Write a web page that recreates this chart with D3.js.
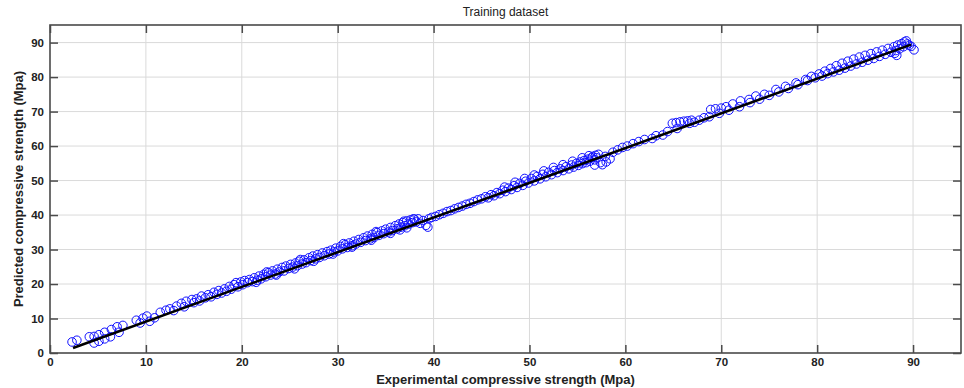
<!DOCTYPE html>
<html>
<head>
<meta charset="utf-8">
<script src="https://cdn.jsdelivr.net/npm/d3@7"></script>
<style>
  html, body { margin: 0; padding: 0; background: #fff; }
  svg { display: block; font-family: "Liberation Sans", Arial, sans-serif; }
</style>
</head>
<body>
<svg id="chart" width="964" height="388"></svg>
<script>
// ---- data ----
const chartTitle = "Training dataset";
const xLabel = "Experimental compressive strength (Mpa)";
const yLabel = "Predicted compressive strength (Mpa)";
const xTicks = [0, 10, 20, 30, 40, 50, 60, 70, 80, 90];
const yTicks = [0, 10, 20, 30, 40, 50, 60, 70, 80, 90];

// [experimental, predicted]
const pointsLow = [
  [2.3,3.2],[2.8,3.7],[4.1,4.7],[4.6,2.9],[4.6,4.8],[5.1,5.3],[5.1,3.4],[5.7,6.0],[5.7,4.1],[6.3,4.7],
  [6.4,6.8],[7.0,7.6],[7.2,6.0],[7.6,8.0],[9.0,9.5],[9.4,8.7],[9.7,10.1],[10.1,10.7],[10.4,9.2],[10.9,10.2],
  [11.5,11.8],[12.1,12.4],[12.5,12.8],[12.9,12.3],[13.2,13.6],[13.7,14.4],[14.0,13.4],[14.2,15.0],[14.8,15.5],[15.0,14.6],
  [15.3,15.7],[15.6,15.1],[15.8,16.5],[16.2,16.0],[16.5,16.9],[16.8,16.3],[17.1,17.6],[17.4,17.0],[17.6,18.1],[17.9,17.4],
  [18.2,18.6],[18.4,17.9],[18.7,19.3],[18.9,18.5],[19.2,19.8],[19.4,20.4],[19.6,19.2],[19.9,20.6],[20.1,19.8]
];
const pointsMid = [
  [20.3,21.0],[20.6,20.4],[20.8,21.3],[21.1,20.7],[21.3,21.8],[21.6,21.1],[21.8,22.3],[22.0,21.5],[22.3,22.8],[22.5,22.1],
  [22.8,23.3],[23.0,22.6],[23.2,23.8],[23.5,22.9],[23.7,24.3],[23.9,23.5],[24.2,24.8],[24.4,23.8],[24.6,25.2],[24.9,24.5],
  [25.1,25.7],[25.3,24.9],[25.6,26.1],[25.8,25.3],[26.0,26.6],[26.3,25.8],[26.5,27.0],[26.7,26.2],[27.0,27.6],[27.2,26.8],
  [27.4,28.1],[27.7,27.3],[27.9,28.5],[28.1,27.7],[28.4,29.0],[28.6,28.2],[28.9,29.4],[29.1,28.7],[29.3,29.8],[29.6,29.3],
  [29.8,30.4],[30.0,29.6],[30.3,30.9],[30.5,30.2],[30.8,31.4],[31.0,30.6],[31.2,31.9],[31.5,31.1],[31.7,32.4],[31.9,31.6],
  [32.2,32.9],[32.4,32.1],[32.7,33.4],[32.9,32.6],[33.1,33.9],[33.4,33.1],[33.6,34.4],[33.8,33.5],[34.1,34.9],[34.3,34.1],
  [34.6,35.4],[34.8,34.6],[35.0,35.9],[35.3,35.1],[35.5,36.4],[35.7,35.5],[36.0,36.9],[36.2,36.0],[36.4,37.4],[36.6,36.5],
  [36.8,37.8],[37.0,36.9],[37.2,38.3],[37.4,37.4],[37.6,38.6],[37.8,37.8],[38.0,38.8],[38.2,38.0],[38.4,38.9],[38.6,37.6],
  [38.9,38.4],[39.2,37.0],[39.4,36.5],[39.5,38.9],[39.8,39.3],
  [21.5,20.5],[23.6,22.6],[25.5,24.4],[27.5,26.6],[29.5,28.7],[31.5,30.7],[33.5,32.7],[35.5,34.7],[36.5,35.7],[37.2,36.3],
  [22.6,23.5],[26.1,27.1],[30.6,31.7],[34.0,35.2],[36.9,38.2],[37.9,38.9]
];
const pointsHigh = [
  [40.2,39.6],[40.6,40.1],[41.0,40.5],[41.4,41.0],[41.8,41.3],[42.2,41.8],[42.6,42.2],[43.0,42.6],[43.4,43.1],[43.8,43.4],
  [44.2,43.9],[44.6,44.4],[45.0,44.7],[45.4,45.3],[45.7,45.0],[46.0,45.9],[46.3,45.6],[46.6,46.5],[46.9,46.2],[47.2,47.2],
  [47.5,46.8],[47.8,47.8],[48.1,47.4],[48.4,48.5],[48.7,48.0],[49.0,49.2],[49.3,48.6],[49.6,49.8],[49.9,49.3],[50.2,50.6],
  [50.5,49.9],[50.8,51.2],[51.1,50.5],[51.4,51.8],[51.7,51.1],[52.0,52.4],[52.3,51.7],[52.6,52.9],[52.9,52.3],[53.2,53.4],
  [53.5,52.9],[53.8,54.0],[54.1,53.4],[54.4,54.5],[54.6,53.9],[54.9,55.0],[55.1,54.4],[55.3,55.4],[55.5,54.9],[55.7,55.8],
  [55.9,55.2],[56.1,56.2],[56.3,55.6],[56.5,56.6],[56.6,57.0],[56.8,56.0],[56.9,57.3],[57.0,56.6],[57.2,57.6],[56.8,54.5],
  [57.4,55.2],[57.6,54.6],[58.0,55.4],[58.4,56.3],[57.9,57.0],
  [47.4,48.1],[48.5,49.5],[49.5,50.6],[50.5,51.6],[51.5,52.8],[52.5,53.8],[53.5,54.6],[54.5,55.6],[55.5,56.6],[56.2,57.2]
];
const pointsTop = [
  [58.7,58.2],[59.2,58.9],[59.7,59.6],[60.2,60.0],[60.8,60.7],[61.4,61.3],[62.0,61.9],[62.8,62.2],[63.2,63.0],[63.9,63.2],
  [64.4,64.2],[64.9,66.6],[65.4,65.1],[65.3,66.8],[65.7,67.0],[66.1,67.2],[66.5,67.3],[66.7,66.6],[66.9,67.5],[67.2,66.9],
  [67.7,67.5],[68.2,68.2],[68.75,68.5],[68.9,70.6],[69.4,70.8],[69.8,69.5],[70.0,71.0],[70.5,71.4],[70.8,70.4],[71.2,72.2],
  [71.9,71.4],[72.0,73.1],[72.9,73.5],[73.0,72.6],[73.6,74.5],[74.0,73.6],[74.5,75.0],[75.0,74.7],[75.7,76.4],[76.0,75.7],
  [76.7,77.3],[77.0,76.7],[77.8,78.3],[78.0,77.8],[78.8,79.3],[79.0,79.0],[79.4,80.2],[79.8,79.8],[80.2,80.9],[80.5,80.3],
  [80.8,81.7],[81.1,81.0],[81.4,82.5],[81.7,81.5],[82.0,83.3],[82.3,82.0],[82.6,84.0],[82.9,82.6],[83.2,84.6],[83.5,83.2],
  [83.8,85.2],[84.1,83.8],[84.4,85.8],[84.7,84.3],[85.0,86.3],[85.3,84.9],[85.6,86.8],[85.9,85.4],[86.2,87.3],[86.5,86.0],
  [86.8,87.8],[87.1,86.6],[87.4,88.3],[87.7,87.2],[88.0,88.8],[88.2,87.7],[88.4,89.3],[88.6,88.2],[88.8,89.7],[89.0,88.8],
  [89.1,90.2],[89.3,90.5],[89.4,89.6],[88.3,86.3],[88.1,86.9],[89.8,88.9],[90.1,87.9],[89.6,89.2]
];
// regression line end points [experimental, predicted]
const fitLine = [[2.4, 1.45], [89.8, 89.4]];

// ---- chart ----
(function () {
  const svg = d3.select("#chart");
  const mLeft = 50, mRight = 961, mTop = 25, mBottom = 353;
  const x = d3.scaleLinear().domain([0, 95]).range([mLeft, mRight]);
  const y = d3.scaleLinear().domain([0, 95.1]).range([mBottom, mTop]);
  const axisColor = "#4a4a4a";
  const tickLen = 8;

  // grid
  svg.append("g").selectAll("line").data(xTicks.filter(d => d > 0)).join("line")
    .attr("x1", d => x(d)).attr("x2", d => x(d)).attr("y1", mTop).attr("y2", mBottom)
    .attr("stroke", "#dadada").attr("stroke-width", 1);
  svg.append("g").selectAll("line").data(yTicks.filter(d => d > 0)).join("line")
    .attr("x1", mLeft).attr("x2", mRight).attr("y1", d => y(d)).attr("y2", d => y(d))
    .attr("stroke", "#dadada").attr("stroke-width", 1);

  // axes with inward ticks
  const fmt = d3.format("d");
  const gxB = svg.append("g").attr("transform", `translate(0,${mBottom})`)
    .call(d3.axisBottom(x).tickValues(xTicks).tickFormat(fmt).tickSizeInner(-tickLen).tickSizeOuter(0).tickPadding(5));
  const gxT = svg.append("g").attr("transform", `translate(0,${mTop})`)
    .call(d3.axisTop(x).tickValues(xTicks).tickFormat("").tickSizeInner(-tickLen).tickSizeOuter(0));
  const gyL = svg.append("g").attr("transform", `translate(${mLeft},0)`)
    .call(d3.axisLeft(y).tickValues(yTicks).tickFormat(fmt).tickSizeInner(-tickLen).tickSizeOuter(0).tickPadding(6));
  const gyR = svg.append("g").attr("transform", `translate(${mRight},0)`)
    .call(d3.axisRight(y).tickValues(yTicks).tickFormat("").tickSizeInner(-tickLen).tickSizeOuter(0));
  [gxB, gxT, gyL, gyR].forEach(g => {
    g.select(".domain").remove();
    g.selectAll(".tick line").attr("stroke", axisColor).attr("stroke-width", 1.5);
    g.selectAll(".tick text").attr("fill", "#222").style("font-size", "11.5px").style("font-weight", "bold")
      .style("font-family", "'Liberation Sans', Arial, sans-serif");
  });

  // data points
  const allPoints = pointsLow.concat(pointsMid, pointsHigh, pointsTop);
  svg.append("g").selectAll("circle").data(allPoints).join("circle")
    .attr("cx", d => x(d[0])).attr("cy", d => y(d[1])).attr("r", 4.3)
    .attr("fill", "none").attr("stroke", "#1010ff").attr("stroke-width", 1);

  // fit line
  svg.append("path").datum(fitLine)
    .attr("d", d3.line().x(d => x(d[0])).y(d => y(d[1])))
    .attr("stroke", "#000").attr("stroke-width", 2.5).attr("fill", "none");

  // frame
  svg.append("rect").attr("x", mLeft).attr("y", mTop).attr("width", mRight - mLeft).attr("height", mBottom - mTop)
    .attr("fill", "none").attr("stroke", axisColor).attr("stroke-width", 1.6);

  // labels
  svg.append("text").attr("x", (mLeft + mRight) / 2).attr("y", 16).attr("text-anchor", "middle")
    .style("font-size", "12px").attr("fill", "#222").text(chartTitle);
  svg.append("text").attr("x", (mLeft + mRight) / 2).attr("y", 384).attr("text-anchor", "middle")
    .style("font-size", "13px").style("font-weight", "bold").attr("fill", "#222").text(xLabel);
  svg.append("text").attr("transform", `translate(23,${(mTop + mBottom) / 2}) rotate(-90)`).attr("text-anchor", "middle")
    .style("font-size", "13px").style("font-weight", "bold").attr("fill", "#222").text(yLabel);
})();
</script>
</body>
</html>
